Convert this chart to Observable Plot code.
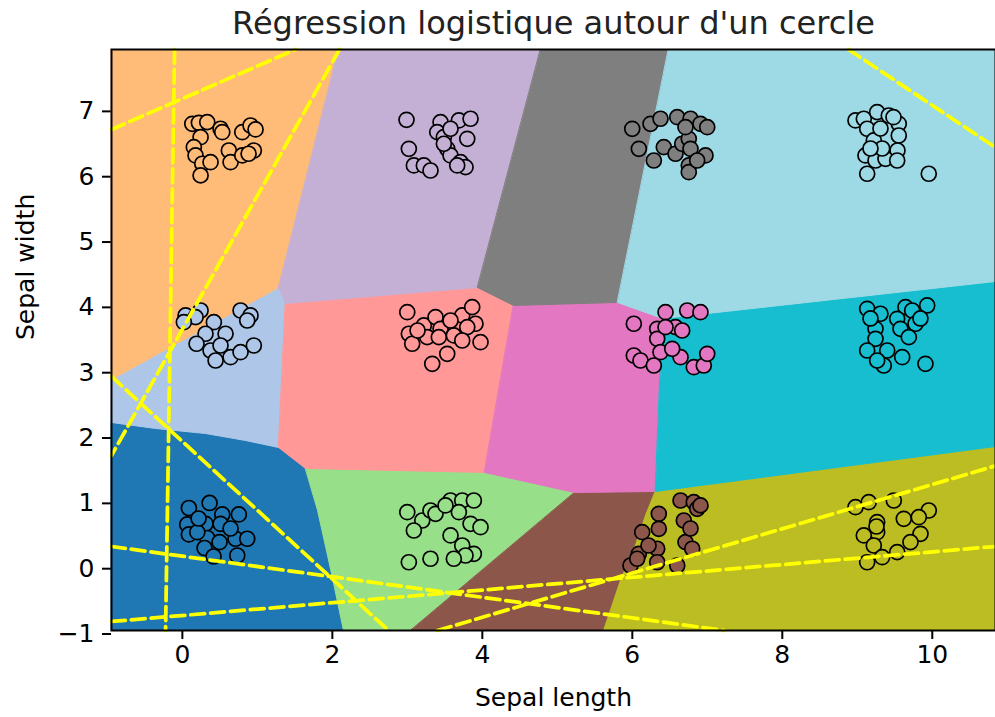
<!DOCTYPE html>
<html>
<head>
<meta charset="utf-8">
<script src="https://cdn.jsdelivr.net/npm/d3@7"></script>
<script src="https://cdn.jsdelivr.net/npm/@observablehq/plot@0.6"></script>
<style>
  body { margin: 0; background: #fff; }
  #chart svg g[aria-label*="axis"] line,
  #chart svg g[aria-label*="axis"] path { stroke-width: 2px; }
</style>
</head>
<body>
<div id="chart"></div>
<script>
// Classes: one per grid cell of the circle layout (x = 0.5, 3.5, 6.5, 9.5 ; y = 0.5, 3.5, 6.5)
const classes = ["c0", "c1", "c2", "c3", "c4", "c5", "c6", "c7", "c8", "c9", "c10", "c11"];
const palette = ["#1f77b4", "#aec7e8", "#ffbb78", "#98df8a", "#ff9896", "#c5b0d5",
                 "#8c564b", "#e377c2", "#7f7f7f", "#bcbd22", "#17becf", "#9edae5"];

const xDomain = [-0.945, 10.843];
const yDomain = [-0.946, 7.947];
const xTicks = [0, 2, 4, 6, 8, 10];
const yTicks = [-1, 0, 1, 2, 3, 4, 5, 6, 7];

// Observations (sepal length, sepal width) per class
const points0 = [[0.087,0.929],[0.363,1.006],[0.532,0.830],[0.753,0.830],[0.065,0.677],[0.309,0.687],[0.509,0.687],[0.087,0.524],[0.332,0.470],[0.496,0.406],[0.709,0.458],[0.865,0.458],[0.296,0.317],[0.732,0.202],[0.416,0.187],[0.199,0.559],[0.643,0.615],[0.216,0.768]];
const points1 = [[0.043,3.876],[0.243,3.952],[0.176,3.850],[0.420,3.773],[0.776,3.952],[0.909,3.876],[0.865,3.799],[0.309,3.596],[0.576,3.596],[0.189,3.443],[0.376,3.340],[0.443,3.187],[0.643,3.237],[0.776,3.314],[0.953,3.416],[0.020,3.773],[0.509,3.416]];
const points2 = [[0.132,6.810],[0.220,6.825],[0.332,6.835],[0.509,6.734],[0.532,6.681],[0.799,6.681],[0.909,6.784],[0.976,6.723],[0.243,6.605],[0.153,6.452],[0.176,6.325],[0.265,6.198],[0.376,6.222],[0.620,6.401],[0.643,6.222],[0.799,6.325],[0.953,6.401],[0.883,6.351],[0.243,6.020]];
const points3 = [[2.999,0.865],[3.199,0.738],[3.309,0.891],[3.376,0.840],[3.576,1.044],[3.732,1.044],[3.887,1.044],[3.687,0.865],[3.843,0.687],[3.976,0.635],[3.087,0.585],[3.576,0.509],[3.732,0.355],[3.887,0.228],[3.776,0.202],[3.620,0.152],[3.309,0.152],[3.020,0.099],[3.509,0.968]];
const points4 = [[2.999,3.926],[3.220,3.723],[3.376,3.850],[3.443,3.672],[3.732,3.876],[3.865,4.003],[3.909,3.749],[3.799,3.697],[3.020,3.596],[3.065,3.443],[3.265,3.544],[3.420,3.544],[3.620,3.570],[3.732,3.493],[3.976,3.467],[3.332,3.136],[3.532,3.289],[3.136,3.646],[3.576,3.799]];
const points5 = [[2.989,6.871],[3.443,6.835],[3.687,6.861],[3.843,6.887],[3.399,6.682],[3.487,6.605],[3.576,6.734],[3.799,6.580],[3.020,6.427],[3.087,6.172],[3.220,6.172],[3.309,6.095],[3.532,6.427],[3.576,6.325],[3.709,6.222],[3.776,6.146],[3.665,6.172],[3.487,6.504]];
const points6 = [[6.643,1.044],[6.820,1.018],[6.865,0.917],[6.353,0.840],[6.687,0.738],[6.132,0.559],[6.353,0.611],[6.709,0.406],[6.799,0.305],[6.332,0.305],[6.087,0.228],[5.976,0.049],[6.332,0.099],[6.599,0.049],[6.065,0.152],[6.776,0.615],[6.909,0.969],[6.216,0.355]];
const points7 = [[6.020,3.749],[6.443,3.926],[6.732,3.952],[6.909,3.926],[6.332,3.672],[6.576,3.697],[6.665,3.646],[6.332,3.519],[6.020,3.263],[6.109,3.187],[6.376,3.314],[6.287,3.110],[6.643,3.237],[6.820,3.084],[6.953,3.110],[6.999,3.289],[6.532,3.366],[6.443,3.697]];
const points8 = [[5.999,6.733],[6.243,6.810],[6.376,6.887],[6.599,6.911],[6.776,6.887],[6.909,6.810],[6.999,6.758],[6.087,6.427],[6.287,6.248],[6.420,6.452],[6.576,6.351],[6.665,6.504],[6.753,6.580],[6.776,6.427],[6.976,6.325],[6.753,6.172],[6.753,6.069],[6.865,6.248],[6.709,6.758]];
const points9 = [[8.976,0.941],[9.153,1.018],[9.487,1.044],[9.953,0.891],[9.620,0.764],[9.820,0.788],[9.265,0.712],[9.265,0.559],[9.087,0.509],[9.843,0.534],[9.709,0.406],[9.220,0.355],[9.532,0.253],[9.132,0.099],[9.332,0.176],[9.256,0.646]];
const points10 = [[9.132,3.978],[9.309,3.902],[9.643,4.003],[9.732,3.952],[9.932,4.029],[9.532,3.825],[9.776,3.749],[9.243,3.672],[9.576,3.672],[9.687,3.544],[9.243,3.519],[9.132,3.340],[9.399,3.340],[9.599,3.237],[9.353,3.110],[9.909,3.136],[9.265,3.187],[9.842,3.830],[9.176,3.830]];
const points11 = [[8.976,6.861],[9.087,6.887],[9.265,6.988],[9.420,6.937],[9.553,6.810],[9.132,6.734],[9.220,6.555],[9.553,6.631],[9.536,6.401],[9.109,6.325],[9.243,6.248],[9.376,6.274],[9.532,6.248],[9.132,6.045],[9.953,6.045],[9.332,6.432],[9.483,6.911],[9.309,6.738],[9.176,6.432]];
const pointsByClass = [points0, points1, points2, points3, points4, points5, points6, points7, points8, points9, points10, points11];

// Decision regions of the classifier, as polygons in data units
const region0 = [[-0.945,2.238],[-0.357,2.146],[0.309,2.069],[0.843,1.962],[1.283,1.855],[1.643,1.534],[1.803,0.891],[1.989,-0.073],[2.149,-0.946],[-0.945,-0.946]];
const region1 = [[-0.945,2.896],[1.283,4.304],[1.376,4.059],[1.283,1.855],[0.843,1.962],[0.309,2.069],[-0.357,2.146],[-0.945,2.238]];
const region2 = [[-0.945,7.947],[2.083,7.947],[1.283,4.304],[-0.945,2.896]];
const region3 = [[1.643,1.534],[4.029,1.473],[5.229,1.166],[3.043,-0.946],[2.149,-0.946],[1.989,-0.073],[1.803,0.891]];
const region4 = [[1.376,4.059],[3.936,4.304],[4.416,4.029],[4.029,1.473],[1.643,1.534],[1.283,1.855]];
const region5 = [[2.083,7.947],[4.776,7.947],[3.936,4.304],[1.376,4.059],[1.283,4.304]];
const region6 = [[5.229,1.166],[6.309,1.182],[6.175,0.815],[6.041,0.356],[5.841,-0.181],[5.616,-0.946],[3.043,-0.946]];
const region7 = [[4.416,4.029],[5.803,4.075],[6.403,3.830],[6.309,1.182],[5.229,1.166],[4.029,1.473]];
const region8 = [[4.776,7.947],[6.483,7.947],[5.803,4.075],[4.416,4.029],[3.936,4.304]];
const region9 = [[6.309,1.182],[10.843,1.870],[10.843,-0.946],[5.616,-0.946],[5.841,-0.181],[6.041,0.356],[6.175,0.815]];
const region10 = [[6.403,3.830],[10.843,4.396],[10.843,1.870],[6.309,1.182]];
const region11 = [[6.483,7.947],[10.843,7.947],[10.843,4.396],[6.403,3.830],[5.803,4.075]];
const regions = [region0, region1, region2, region3, region4, region5, region6, region7, region8, region9, region10, region11];

// Separating lines of the one-vs-rest models (two endpoints each)
const separators = [
  [[-0.104, 7.947], [-0.224, -0.946]],
  [[-0.945, 6.723], [1.509, 7.947]],
  [[2.095, 7.947], [-0.945, 1.733]],
  [[-0.945, 2.942], [2.749, -0.946]],
  [[-0.945, 0.340], [7.229, -0.946]],
  [[-0.945, -0.808], [10.843, 0.340]],
  [[3.403, -0.946], [10.843, 1.574]],
  [[8.883, 7.947], [10.843, 6.447]]
];

const title = "Régression logistique autour d'un cercle";
const xLabel = "Sepal length";
const yLabel = "Sepal width";

const regionRows = regions.flatMap((poly, k) => poly.map(([x, y]) => ({cls: classes[k], x, y})));
const pointRows = pointsByClass.flatMap((pts, k) => pts.map(([x, y]) => ({cls: classes[k], x, y})));
const separatorRows = separators.flatMap((seg, i) => seg.map(([x, y]) => ({id: i, x, y})));

const chart = Plot.plot({
  width: 995,
  height: 717,
  marginLeft: 111,
  marginRight: 0,
  marginTop: 49,
  marginBottom: 87,
  style: {fontFamily: "DejaVu Sans", fontSize: "25px", background: "white", color: "black"},
  x: {domain: xDomain, ticks: xTicks, tickSize: 9, tickPadding: 6, label: null},
  y: {domain: yDomain, ticks: yTicks, tickSize: 9, tickPadding: 8, label: null},
  color: {type: "ordinal", domain: classes, range: palette},
  marks: [
    Plot.line(regionRows, {x: "x", y: "y", z: "cls", fill: "cls", stroke: "cls", strokeWidth: 1, curve: "linear-closed"}),
    Plot.dot(pointRows, {x: "x", y: "y", r: 7.5, fill: "cls", stroke: "black", strokeWidth: 1.7}),
    Plot.line(separatorRows, {x: "x", y: "y", z: "id", stroke: "yellow", strokeWidth: 3.75, strokeDasharray: "13.9,6"}),
    Plot.frame({stroke: "black", strokeWidth: 2}),
    Plot.text([title], {frameAnchor: "top", lineAnchor: "middle", dy: -26, text: d => d, fontSize: 32, fill: "#222"}),
    Plot.text([xLabel], {frameAnchor: "bottom", lineAnchor: "middle", dy: 67, text: d => d, fontSize: 25, fill: "black"}),
    Plot.text([yLabel], {frameAnchor: "left", lineAnchor: "middle", dx: -86, rotate: -90, text: d => d, fontSize: 25, fill: "black"})
  ]
});

document.getElementById("chart").appendChild(chart);
</script>
</body>
</html>
